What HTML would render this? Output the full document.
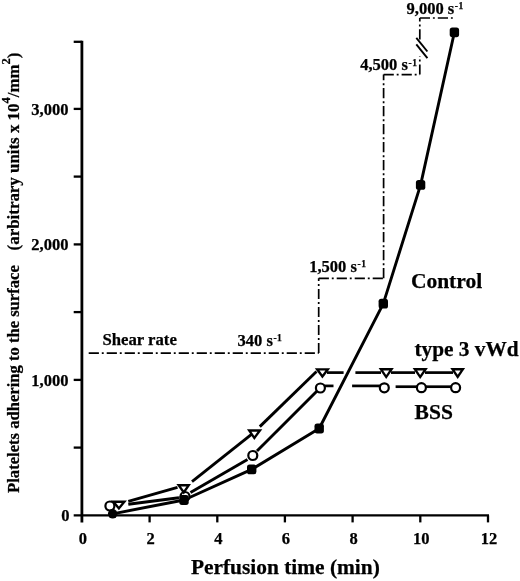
<!DOCTYPE html>
<html lang="en"><head><meta charset="utf-8"><title>Platelet adhesion vs perfusion time</title>
<style>html,body{margin:0;padding:0;background:#fff}body{width:520px;height:581px;overflow:hidden}svg{will-change:transform}</style></head>
<body>
<svg width="520" height="581" viewBox="0 0 520 581" style="display:block">
<rect width="520" height="581" fill="#fff"/>
<g stroke="#000" stroke-width="2.3" fill="none" stroke-linecap="butt">
<path d="M81.9 40.65 V522.6" stroke-width="2.8"/>
<path d="M73.7 515.4 H489"/>
<path d="M73.7 447.6 H81.9"/>
<path d="M73.7 379.9 H81.9"/>
<path d="M73.7 312.1 H81.9"/>
<path d="M73.7 244.4 H81.9"/>
<path d="M73.7 176.6 H81.9"/>
<path d="M73.7 108.9 H81.9"/>
<path d="M73.7 41.8 H81.9"/>
<path d="M149.6 515.4 V522.4"/>
<path d="M217.3 515.4 V522.4"/>
<path d="M284.9 515.4 V522.4"/>
<path d="M352.6 515.4 V522.4"/>
<path d="M420.3 515.4 V522.4"/>
<path d="M488.0 515.4 V522.4"/>
</g>
<g stroke="#000" stroke-width="1.7" fill="none" stroke-dasharray="10.2 2.9 1.9 3">
<path d="M88.7 353.1 H318.7"/>
<path d="M318.7 353.1 V278.3"/>
<path d="M318.7 278.3 H383.6"/>
<path d="M383.6 278.3 V74.6"/>
<path d="M383.6 74.6 H419.8"/>
<path d="M419.8 74.6 V56"/>
<path d="M419.8 39.5 V18"/>
<path d="M419.8 18 H454"/>
</g>
<g stroke="#000" stroke-width="1.9" fill="none">
<path d="M416.3 37.8 L427.4 51.5"/>
<path d="M416.3 44.4 L427.4 58.1"/>
</g>
<g stroke="#000" stroke-width="2.9" fill="none" stroke-linejoin="round" stroke-linecap="butt">
<path d="M112.7 513.8 L184 500 L251.7 469.4 L319.2 428.5 L383.3 303.6 L420.6 184.9 L454.4 32.3"/>
<path d="M128.3 501.3 L177.5 487.3"/>
<path d="M192 481.6 L251.5 434.3"/>
<path d="M259.8 426.6 L316.5 371.5"/>
<path d="M327 372.6 H343.6" stroke-width="2.7"/>
<path d="M355.4 372.6 H381" stroke-width="2.7"/>
<path d="M391 372.6 H415" stroke-width="2.7"/>
<path d="M425 372.6 H453" stroke-width="2.7"/>
<path d="M128.3 504.2 L179 497.7"/>
<path d="M190.5 492.5 L247.5 459.6"/>
<path d="M257 451 L317.3 390.7"/>
<path d="M324.5 385.9 H333.5" stroke-width="2.7"/>
<path d="M352.1 385.9 H380" stroke-width="2.7"/>
<path d="M395.6 386.7 H417" stroke-width="2.7"/>
<path d="M426 386.7 H451" stroke-width="2.7"/>
</g>
<g fill="#fff" stroke="#000" stroke-width="2.2">
<circle cx="109.9" cy="506" r="4.5"/>
<circle cx="185" cy="496.5" r="4.5"/>
<circle cx="252.8" cy="455.5" r="4.5"/>
<circle cx="320.4" cy="388.0" r="4.5"/>
<circle cx="384.3" cy="387.8" r="4.5"/>
<circle cx="421.4" cy="387.7" r="4.5"/>
<circle cx="455.6" cy="387.7" r="4.5"/>
</g>
<g fill="#000">
<circle cx="112.7" cy="513.8" r="4.75"/>
<rect x="179.3" y="495.1" width="9.4" height="9.8" rx="2.6"/>
<rect x="247.0" y="464.5" width="9.4" height="9.8" rx="2.6"/>
<rect x="314.5" y="423.6" width="9.4" height="9.8" rx="2.6"/>
<rect x="378.6" y="298.7" width="9.4" height="9.8" rx="2.6"/>
<rect x="415.9" y="180.0" width="9.4" height="9.8" rx="2.6"/>
<rect x="449.7" y="27.4" width="9.4" height="9.8" rx="2.6"/>
</g>
<g stroke="none">
<path fill="#000" d="M110.80 500.60 L126.90 500.60 L118.90 510.20 Z"/>
<path fill="#fff" d="M115.97 503.00 L121.78 503.00 L118.89 506.46 Z"/>
<path fill="#000" d="M176.40 484.00 L191.00 484.00 L183.80 494.60 Z"/>
<path fill="#fff" d="M181.00 486.40 L186.47 486.40 L183.77 490.37 Z"/>
<path fill="#000" d="M246.90 429.30 L262.30 429.30 L254.30 440.00 Z"/>
<path fill="#fff" d="M251.48 431.70 L257.51 431.70 L254.38 435.89 Z"/>
<path fill="#000" d="M314.80 368.20 L330.20 368.20 L322.40 378.60 Z"/>
<path fill="#fff" d="M319.53 370.60 L325.40 370.60 L322.43 374.57 Z"/>
<path fill="#000" d="M378.60 368.10 L393.80 368.10 L386.20 379.10 Z"/>
<path fill="#fff" d="M383.18 370.50 L389.22 370.50 L386.20 374.88 Z"/>
<path fill="#000" d="M412.60 368.10 L427.90 368.10 L420.20 379.10 Z"/>
<path fill="#fff" d="M417.18 370.50 L423.29 370.50 L420.21 374.90 Z"/>
<path fill="#000" d="M450.30 368.10 L465.10 368.10 L457.70 379.10 Z"/>
<path fill="#fff" d="M454.81 370.50 L460.59 370.50 L457.70 374.80 Z"/>
</g>
<g font-family='"Liberation Serif", "Times New Roman", serif' font-weight="bold" fill="#000" stroke="#000" stroke-width="0.25">
<text x="68.4" y="114.6" font-size="16.5" text-anchor="end">3,000</text>
<text x="68.4" y="250.1" font-size="16.5" text-anchor="end">2,000</text>
<text x="68.4" y="385.6" font-size="16.5" text-anchor="end">1,000</text>
<text x="69.5" y="521.4" font-size="16.5" text-anchor="end">0</text>
<text x="82.9" y="543.8" font-size="16.5" text-anchor="middle">0</text>
<text x="150.6" y="543.8" font-size="16.5" text-anchor="middle">2</text>
<text x="218.3" y="543.8" font-size="16.5" text-anchor="middle">4</text>
<text x="285.9" y="543.8" font-size="16.5" text-anchor="middle">6</text>
<text x="353.6" y="543.8" font-size="16.5" text-anchor="middle">8</text>
<text x="421.3" y="543.8" font-size="16.5" text-anchor="middle">10</text>
<text x="489.0" y="543.8" font-size="16.5" text-anchor="middle">12</text>
<text x="190.9" y="573.7" font-size="21.4">Perfusion time (min)</text>
<text x="410.9" y="287.7" font-size="21.5">Control</text>
<text x="414.5" y="356" font-size="21.3">type 3 vWd</text>
<text x="414.6" y="419.3" font-size="21.5">BSS</text>
<text x="102.5" y="344.5" font-size="16.7">Shear rate</text>
<text x="237.5" y="345.5" font-size="16.5" word-spacing="0">340 s<tspan font-size="9.5" dy="-4.7" dx="0.6" letter-spacing="0.5">-1</tspan></text>
<text x="309.2" y="272.1" font-size="16.5" word-spacing="0">1,500 s<tspan font-size="9.5" dy="-4.7" dx="0.6" letter-spacing="0.5">-1</tspan></text>
<text x="360.2" y="70.3" font-size="16.5" word-spacing="0">4,500 s<tspan font-size="9.5" dy="-4.7" dx="0.6" letter-spacing="0.5">-1</tspan></text>
<text x="406.6" y="13.6" font-size="16.5" word-spacing="0">9,000 s<tspan font-size="9.5" dy="-4.7" dx="0.6" letter-spacing="0.5">-1</tspan></text>
<text transform="translate(18.7 492.9) rotate(-90)" font-size="16.6">Platelets adhering to the surface</text>
<text transform="translate(18.7 250.4) rotate(-90)" font-size="16.9">(arbitrary units x 10<tspan font-size="12.5" dy="-9">4</tspan><tspan dy="9">/mm</tspan><tspan font-size="12.5" dy="-9">2</tspan><tspan dy="9">)</tspan></text>
</g>
</svg>
</body></html>
